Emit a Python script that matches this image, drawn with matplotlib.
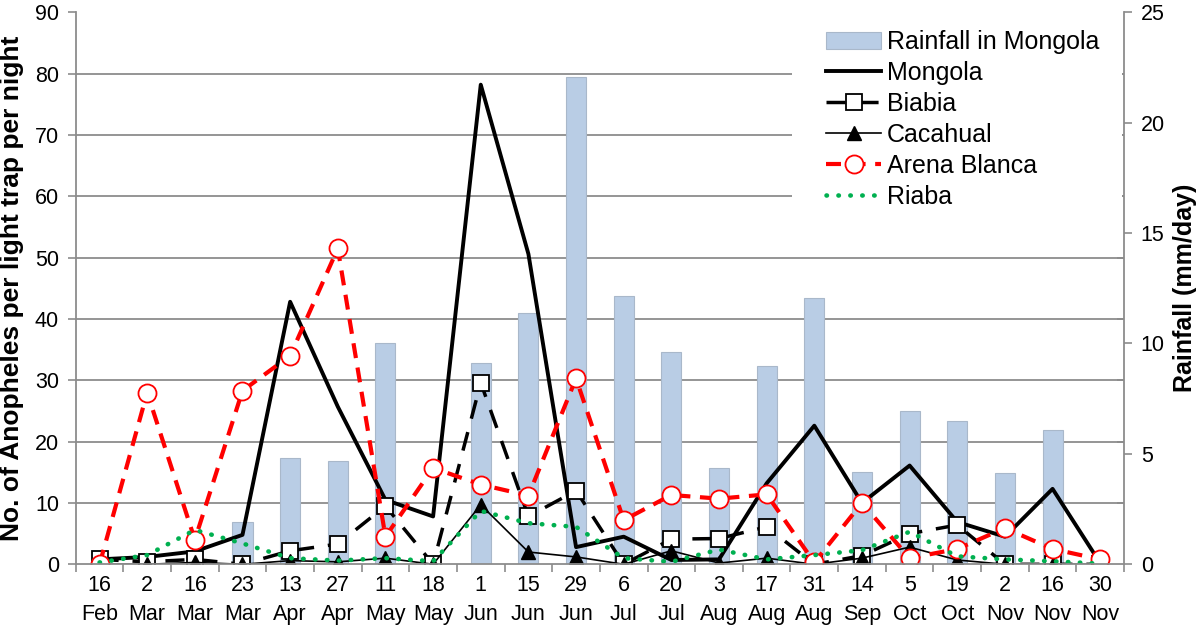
import numpy as np
import matplotlib.pyplot as plt
from matplotlib.patches import Rectangle

plt.rcParams['font.family'] = ['Liberation Sans', 'DejaVu Sans']

# sampling dates
days = ['16', '2', '16', '23', '13', '27', '11', '18', '1', '15', '29', '6',
        '20', '3', '17', '31', '14', '5', '19', '2', '16', '30']
months = ['Feb', 'Mar', 'Mar', 'Mar', 'Apr', 'Apr', 'May', 'May', 'Jun', 'Jun', 'Jun', 'Jul',
          'Jul', 'Aug', 'Aug', 'Aug', 'Sep', 'Oct', 'Oct', 'Nov', 'Nov', 'Nov']

# rainfall in Mongola (mm/day), right axis
rainfall = [0, 0, 0, 1.9, 4.8, 4.7, 10.0, 0, 9.1, 11.4, 22.05, 12.15,
            9.6, 4.35, 9.0, 12.05, 4.2, 6.95, 6.5, 4.15, 6.1, 0]

# anopheles per light trap per night
mongola = [0.8, 1.2, 2.1, 4.8, 42.8, 25.7, 10.5, 7.8, 78.2, 50.6, 2.8, 4.5,
           0.7, 0.8, 13.2, 22.6, 10.0, 16.1, 6.9, 4.5, 12.3, 0.2]
biabia = [0.8, 0.4, 0.8, 0, 2.2, 3.3, 9.5, 0, 29.6, 7.8, 12.0, 0,
          4.1, 4.2, 6.1, 0, 1.4, 5.0, 6.4, 0, 0, 0]
cacahual = [0, 0, 0.3, 0, 0.6, 0.4, 1.0, 0, 9.7, 2.0, 1.2, 0,
            2.2, 0.2, 1.0, 0, 1.0, 2.8, 0.7, 0, 0, 0]
arena_blanca = [0, 28.0, 4.0, 28.3, 34.0, 51.5, 4.5, 15.7, 13.0, 11.2, 30.3, 7.2,
                11.3, 10.7, 11.4, 0.3, 10.0, 1.0, 2.5, 5.9, 2.5, 0.8]
riaba = [0.3, 1.5, 5.6, 3.4, 1.0, 0.6, 1.0, 0.5, 8.7, 6.7, 6.1, 1.0,
         0.4, 2.4, 0.8, 1.5, 2.3, 5.3, 1.3, 0.8, 0.5, 0.1]

grey = '#8c8c8c'
x = np.arange(len(days))

fig = plt.figure(figsize=(12, 6.3), dpi=100)
ax = fig.add_axes([0.0631, 0.1043, 0.8736, 0.8762])
axr = ax.twinx()

# rainfall bars + gridlines live on the right axis (below the lines)
bars = axr.bar(x, rainfall, width=0.42, color='#b9cde5', edgecolor='#a9b8ca',
               linewidth=0.8, label='Rainfall in Mongola', zorder=2)
axr.set_ylim(0, 25)
axr.set_yticks(np.arange(0, 26, 5))
axr.set_yticks(np.arange(10) * 25 / 9, minor=True)
axr.grid(which='minor', axis='y', color=grey, linewidth=1.3, zorder=0)
axr.set_axisbelow(True)
axr.tick_params(axis='y', which='major', direction='out', length=6, width=1.2,
                color=grey, labelsize=15.5, pad=6)
axr.tick_params(axis='y', which='minor', direction='in', length=5, width=1.2, color=grey)
for s in ['top', 'left', 'bottom']:
    axr.spines[s].set_visible(False)
axr.spines['right'].set_color(grey)
axr.spines['right'].set_linewidth(1.3)
axr.set_ylabel('Rainfall (mm/day)', fontsize=18, fontweight='bold', labelpad=6)

ax.set_zorder(axr.get_zorder() + 1)
ax.patch.set_visible(False)

ax.plot(x, mongola, color='black', lw=2.8, label='Mongola')
ax.plot(x, biabia, color='black', lw=2.5, dashes=(5.5, 4), marker='s', markersize=12,
        markerfacecolor='white', markeredgecolor='black', markeredgewidth=1.3, label='Biabia')
ax.plot(x, cacahual, color='black', lw=1.2, marker='^', markersize=10, label='Cacahual')
ax.plot(x, arena_blanca, color='#ff0000', lw=3, dashes=(3.6, 2.3), marker='o', markersize=13,
        markerfacecolor='white', markeredgecolor='#ff0000', markeredgewidth=1.3, label='Arena Blanca')
ax.plot(x, riaba, color='#00b050', lw=3.3, linestyle=(0, (0.1, 2.5)), dash_capstyle='round',
        label='Riaba')

ax.set_xlim(-0.5, len(days) - 0.5)
ax.set_ylim(0, 90)
ax.set_yticks(np.arange(0, 91, 10))
ax.tick_params(axis='y', direction='out', length=6, width=1.2, color=grey, labelsize=15.5, pad=6)
ax.set_xticks(x)
ax.set_xticklabels([d + '\n' + m for d, m in zip(days, months)], fontsize=15.5, linespacing=1.45)
ax.set_xticks(np.arange(-0.5, len(days)), minor=True)
ax.tick_params(axis='x', which='major', length=0, pad=8)
ax.tick_params(axis='x', which='minor', direction='out', length=6, width=1.2, color=grey)
for s in ['top', 'right']:
    ax.spines[s].set_visible(False)
for s in ['left', 'bottom']:
    ax.spines[s].set_color(grey)
    ax.spines[s].set_linewidth(1.3)
ax.set_ylabel('No. of Anopheles per light trap per night', fontsize=19, fontweight='bold', labelpad=8)

# white area behind the legend hides the gridlines there
ax.add_patch(Rectangle((0.683, 0.557), 0.315, 0.438, transform=ax.transAxes,
                       facecolor='white', edgecolor='none', zorder=1))

h, l = ax.get_legend_handles_labels()
ax.legend([bars] + h, ['Rainfall in Mongola'] + l, loc='upper left', frameon=False,
          bbox_to_anchor=(826 / 1200, 1 - 30 / 630), bbox_transform=fig.transFigure,
          borderpad=0, borderaxespad=0, fontsize=18, handlelength=2.2,
          handletextpad=0.25, labelspacing=0.28)

fig.savefig('out.png', dpi=100)
